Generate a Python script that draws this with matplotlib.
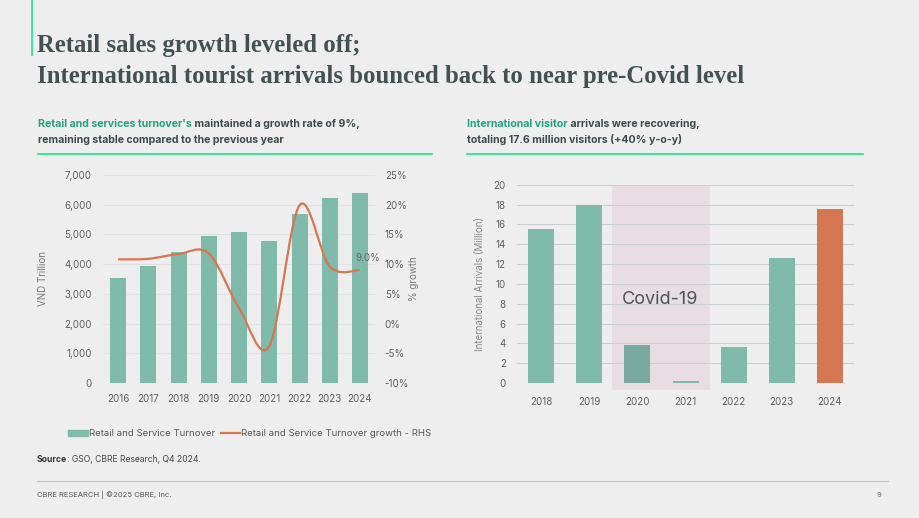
import matplotlib.pyplot as plt
from matplotlib.path import Path
from matplotlib.patches import PathPatch, Rectangle, Patch
from matplotlib.lines import Line2D
from matplotlib.ticker import FuncFormatter

plt.rcParams['font.family'] = ['Inter', 'DejaVu Sans']

# data
retail_years = ['2016', '2017', '2018', '2019', '2020', '2021', '2022', '2023', '2024']
turnover = [3530, 3930, 4400, 4940, 5065, 4790, 5700, 6235, 6390]
growth = [10.8, 10.9, 11.7, 11.8, 2.6, -3.8, 19.9, 9.6, 9.0]

arrival_years = ['2018', '2019', '2020', '2021', '2022', '2023', '2024']
arrivals = [15.5, 18.0, 3.86, 0.16, 3.66, 12.6, 17.6]
covid_years = ['2020', '2021']

teal = '#80baab'
orange = '#d57752'
green = '#17e88f'
dark = '#3d4b4c'
tick_col = '#5a5f5f'


def smooth_path(xs, ys):
    # excel-style smoothed line as cubic bezier through the points
    n = len(xs)
    verts = [(xs[0], ys[0])]
    codes = [Path.MOVETO]
    for i in range(n - 1):
        a = i - 1 if i > 0 else i
        b = i + 2 if i + 2 < n else i + 1
        c1 = (xs[i] + (xs[i + 1] - xs[a]) / 6, ys[i] + (ys[i + 1] - ys[a]) / 6)
        c2 = (xs[i + 1] - (xs[b] - xs[i]) / 6, ys[i + 1] - (ys[b] - ys[i]) / 6)
        verts += [c1, c2, (xs[i + 1], ys[i + 1])]
        codes += [Path.CURVE4] * 3
    return Path(verts, codes)


fig = plt.figure(figsize=(9.2, 5.18), dpi=100)
fig.patch.set_facecolor('#eeeeee')

bg = fig.add_axes([0, 0, 1, 1])
bg.axis('off')
bg.set_xlim(0, 920)
bg.set_ylim(518, 0)

# header
bg.plot([32, 32], [0, 55], color=green, lw=1.2)
bg.text(37, 52, 'Retail sales growth leveled off;', fontsize=17.8, color='#435152',
        family='Liberation Serif', weight='bold', va='baseline')
bg.text(37, 83, 'International tourist arrivals bounced back to near pre-Covid level',
        fontsize=17.8, color='#435152', family='Liberation Serif', weight='bold',
        va='baseline')


def two_tone(x, y, first, second, size, c1, c2, w1='bold', w2='bold'):
    t = bg.text(x, y, first, fontsize=size, color=c1, weight=w1, va='baseline')
    bg.annotate(second, xy=(1, 0), xycoords=t, va='bottom', ha='left',
                fontsize=size, color=c2, weight=w2)


two_tone(38, 127, "Retail and services turnover's", ' maintained a growth rate of 9%,',
         7.6, '#22a47e', dark)
bg.text(38, 143, 'remaining stable compared to the previous year', fontsize=7.6,
        color=dark, weight='bold', va='baseline')
bg.plot([38, 432], [154, 154], color=green, lw=1.2)

two_tone(467, 127, 'International visitor', ' arrivals were recovering,',
         7.6, '#22a47e', dark)
bg.text(467, 143, 'totaling 17.6 million visitors (+40% y-o-y)', fontsize=7.6,
        color=dark, weight='bold', va='baseline')
bg.plot([467, 863], [154, 154], color=green, lw=1.2)

# left chart
ax = fig.add_axes([0.112, 0.2606, 0.2957, 0.4016])
ax.set_facecolor('none')
x = list(range(len(retail_years)))
ax.bar(x, turnover, width=0.53, color=teal, zorder=2)
ax.set_xlim(-0.5, len(retail_years) - 0.5)
ax.set_ylim(0, 7000)
ax.set_yticks(range(0, 7001, 1000))
ax.yaxis.set_major_formatter(FuncFormatter(lambda v, p: f'{int(v):,}'))
ax.set_xticks(x)
ax.set_xticklabels(retail_years)
ax.grid(axis='y', color='#dfe3e2', lw=0.8, zorder=0)
ax.set_axisbelow(True)
ax.tick_params(length=0, labelsize=7, colors=tick_col)
ax.tick_params(axis='y', pad=8)
ax.tick_params(axis='x', pad=8)
for s in ax.spines.values():
    s.set_visible(False)
ax.set_ylabel('VND Trillion', fontsize=7, color='#777777', labelpad=12)

ax2 = ax.twinx()
ax2.set_ylim(-10, 25)
ax2.set_yticks(range(-10, 26, 5))
ax2.yaxis.set_major_formatter(FuncFormatter(lambda v, p: f'{int(v)}%'))
ax2.tick_params(length=0, labelsize=7, colors=tick_col, pad=7)
for s in ax2.spines.values():
    s.set_visible(False)
ax2.add_patch(PathPatch(smooth_path(x, growth), facecolor='none',
                        edgecolor=orange, lw=1.6, zorder=3))
ax2.annotate(f'{growth[-1]:.1f}%', xy=(x[-1], growth[-1]), xytext=(8.27, 11.0),
             fontsize=7, color='#666666', ha='center', va='center',
             arrowprops=dict(arrowstyle='-', color='#c0c0c0', lw=0.6,
                             shrinkA=3, shrinkB=0))
ax2.set_ylabel('% growth', fontsize=7, color='#777777', rotation=90, labelpad=0)

handles = [Patch(color=teal), Line2D([0], [0], color=orange, lw=1.6)]
fig.legend(handles, ['Retail and Service Turnover',
                     'Retail and Service Turnover growth - RHS'],
           loc='center', bbox_to_anchor=(250 / 920, 1 - 434 / 518), ncol=2,
           frameon=False, fontsize=6.9, handlelength=2.0, handleheight=0.55,
           handletextpad=0.15, columnspacing=0.6, labelcolor='#555555')

# right chart
axr = fig.add_axes([0.562, 0.2606, 0.3663, 0.3828])
axr.set_facecolor('none')
xr = list(range(len(arrival_years)))
bar_colors = [teal] * len(arrival_years)
bar_colors[arrival_years.index('2020')] = '#7aaa9f'
bar_colors[-1] = orange
axr.bar(xr, arrivals, width=0.54, color=bar_colors, zorder=3)
axr.set_xlim(-0.5, len(arrival_years) - 0.5)
axr.set_ylim(0, 20)
axr.set_yticks(range(0, 21, 2))
axr.set_xticks(xr)
axr.set_xticklabels(arrival_years)
axr.grid(axis='y', color='#c9cfd3', lw=0.8, zorder=1)
axr.set_axisbelow(True)
axr.tick_params(length=0, labelsize=7, colors=tick_col)
axr.tick_params(axis='y', pad=8)
axr.tick_params(axis='x', pad=10)
for s in axr.spines.values():
    s.set_visible(False)
c0 = arrival_years.index(covid_years[0])
c1 = arrival_years.index(covid_years[-1])
axr.add_patch(Rectangle((c0 - 0.53, -0.7), c1 - c0 + 1.03, 20.7,
                        facecolor='#e8dde3', edgecolor='none', zorder=0.5,
                        clip_on=False))
axr.text((c0 + c1) / 2 - 0.03, 8.4, 'Covid-19', fontsize=13, color='#4a5656',
         ha='center', va='center', zorder=4)
axr.set_ylabel('International Arrivals (Million)', fontsize=7, color='#888888',
               labelpad=6)

# footer
two_tone(37, 462, 'Source', ': GSO, CBRE Research, Q4 2024.', 6.2, '#333333',
         '#444444', w2='normal')
bg.plot([37, 888], [481, 481], color='#c4c4c4', lw=0.8)
bg.text(37, 497, 'CBRE RESEARCH | \u00a92025 CBRE, Inc.', fontsize=5.5,
        color='#555555', va='baseline')
bg.text(879, 497, '9', fontsize=5.5, color='#777777', va='baseline', ha='center')

fig.savefig('out.png', dpi=100, facecolor=fig.get_facecolor())
